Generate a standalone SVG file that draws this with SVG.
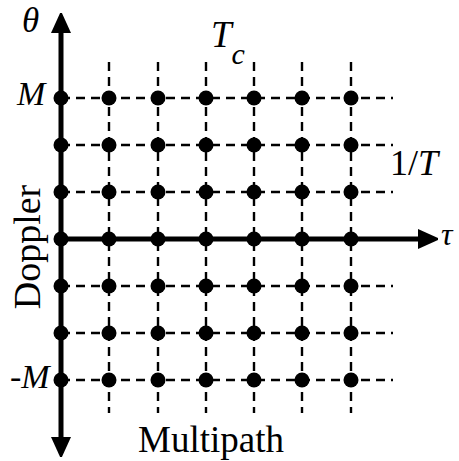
<svg xmlns="http://www.w3.org/2000/svg" width="459" height="461" viewBox="0 0 459 461">
<defs>
<style>
.dash{stroke:#000;stroke-width:2.4;stroke-dasharray:9 6;fill:none}
.axis{stroke:#000;stroke-width:5;fill:none}
.dot{fill:#000}
text{font-family:"Liberation Serif","Times New Roman",serif;fill:#000}
.it{font-style:italic}
</style>
<marker id="ah" viewBox="0 0 20 20" refX="0" refY="10" markerWidth="20" markerHeight="20" markerUnits="userSpaceOnUse" orient="auto">
<path d="M0,0 L22,10 L0,20 Z" fill="#000"/>
</marker>
</defs>
<rect width="459" height="461" fill="#fff"/>
<g id="connectors">
<g id="grid-h">
<line class="dash" x1="61" y1="98" x2="393" y2="98"/>
<line class="dash" x1="61" y1="145" x2="393" y2="145"/>
<line class="dash" x1="61" y1="192" x2="393" y2="192"/>
<line class="dash" x1="61" y1="286" x2="393" y2="286"/>
<line class="dash" x1="61" y1="333" x2="393" y2="333"/>
<line class="dash" x1="61" y1="380" x2="393" y2="380"/>
</g>
<g id="grid-v">
<line class="dash" x1="109" y1="62" x2="109" y2="413"/>
<line class="dash" x1="158" y1="62" x2="158" y2="413"/>
<line class="dash" x1="206" y1="62" x2="206" y2="413"/>
<line class="dash" x1="254" y1="62" x2="254" y2="413"/>
<line class="dash" x1="302" y1="62" x2="302" y2="413"/>
<line class="dash" x1="351" y1="62" x2="351" y2="413"/>
</g>
<g id="axes">
<line class="axis" x1="61" y1="239" x2="61" y2="33" marker-end="url(#ah)"/>
<line class="axis" x1="61" y1="239" x2="61" y2="437" marker-end="url(#ah)"/>
<line class="axis" x1="61" y1="239" x2="418" y2="239" marker-end="url(#ah)"/>
</g>
</g>
<g id="dots">
<g id="row-1"><circle class="dot" cx="61" cy="98" r="7.5"/><circle class="dot" cx="109" cy="98" r="7.5"/><circle class="dot" cx="158" cy="98" r="7.5"/><circle class="dot" cx="206" cy="98" r="7.5"/><circle class="dot" cx="254" cy="98" r="7.5"/><circle class="dot" cx="302" cy="98" r="7.5"/><circle class="dot" cx="351" cy="98" r="7.5"/></g>
<g id="row-2"><circle class="dot" cx="61" cy="145" r="7.5"/><circle class="dot" cx="109" cy="145" r="7.5"/><circle class="dot" cx="158" cy="145" r="7.5"/><circle class="dot" cx="206" cy="145" r="7.5"/><circle class="dot" cx="254" cy="145" r="7.5"/><circle class="dot" cx="302" cy="145" r="7.5"/><circle class="dot" cx="351" cy="145" r="7.5"/></g>
<g id="row-3"><circle class="dot" cx="61" cy="192" r="7.5"/><circle class="dot" cx="109" cy="192" r="7.5"/><circle class="dot" cx="158" cy="192" r="7.5"/><circle class="dot" cx="206" cy="192" r="7.5"/><circle class="dot" cx="254" cy="192" r="7.5"/><circle class="dot" cx="302" cy="192" r="7.5"/><circle class="dot" cx="351" cy="192" r="7.5"/></g>
<g id="row-4"><circle class="dot" cx="61" cy="239" r="7.5"/><circle class="dot" cx="109" cy="239" r="7.5"/><circle class="dot" cx="158" cy="239" r="7.5"/><circle class="dot" cx="206" cy="239" r="7.5"/><circle class="dot" cx="254" cy="239" r="7.5"/><circle class="dot" cx="302" cy="239" r="7.5"/><circle class="dot" cx="351" cy="239" r="7.5"/></g>
<g id="row-5"><circle class="dot" cx="61" cy="286" r="7.5"/><circle class="dot" cx="109" cy="286" r="7.5"/><circle class="dot" cx="158" cy="286" r="7.5"/><circle class="dot" cx="206" cy="286" r="7.5"/><circle class="dot" cx="254" cy="286" r="7.5"/><circle class="dot" cx="302" cy="286" r="7.5"/><circle class="dot" cx="351" cy="286" r="7.5"/></g>
<g id="row-6"><circle class="dot" cx="61" cy="333" r="7.5"/><circle class="dot" cx="109" cy="333" r="7.5"/><circle class="dot" cx="158" cy="333" r="7.5"/><circle class="dot" cx="206" cy="333" r="7.5"/><circle class="dot" cx="254" cy="333" r="7.5"/><circle class="dot" cx="302" cy="333" r="7.5"/><circle class="dot" cx="351" cy="333" r="7.5"/></g>
<g id="row-7"><circle class="dot" cx="61" cy="380" r="7.5"/><circle class="dot" cx="109" cy="380" r="7.5"/><circle class="dot" cx="158" cy="380" r="7.5"/><circle class="dot" cx="206" cy="380" r="7.5"/><circle class="dot" cx="254" cy="380" r="7.5"/><circle class="dot" cx="302" cy="380" r="7.5"/><circle class="dot" cx="351" cy="380" r="7.5"/></g>
</g>
<g id="label-theta"><text class="it" x="22" y="32" font-size="35">θ</text></g>
<g id="label-M"><text class="it" x="17" y="105" font-size="34">M</text></g>
<g id="label-negM"><text x="10" y="388" font-size="34">-<tspan class="it">M</tspan></text></g>
<g id="label-Tc"><text class="it" x="211" y="47" font-size="37">T<tspan font-size="30" dy="17">c</tspan></text></g>
<g id="label-1T"><text x="390" y="175" font-size="36">1/<tspan class="it">T</tspan></text></g>
<g id="label-tau"><text class="it" x="441" y="245" font-size="32">τ</text></g>
<g id="label-doppler"><text x="40" y="247" font-size="38" text-anchor="middle" transform="rotate(-90 40 247)">Doppler</text></g>
<g id="label-multipath"><text x="211" y="452" font-size="37" text-anchor="middle">Multipath</text></g>
</svg>
